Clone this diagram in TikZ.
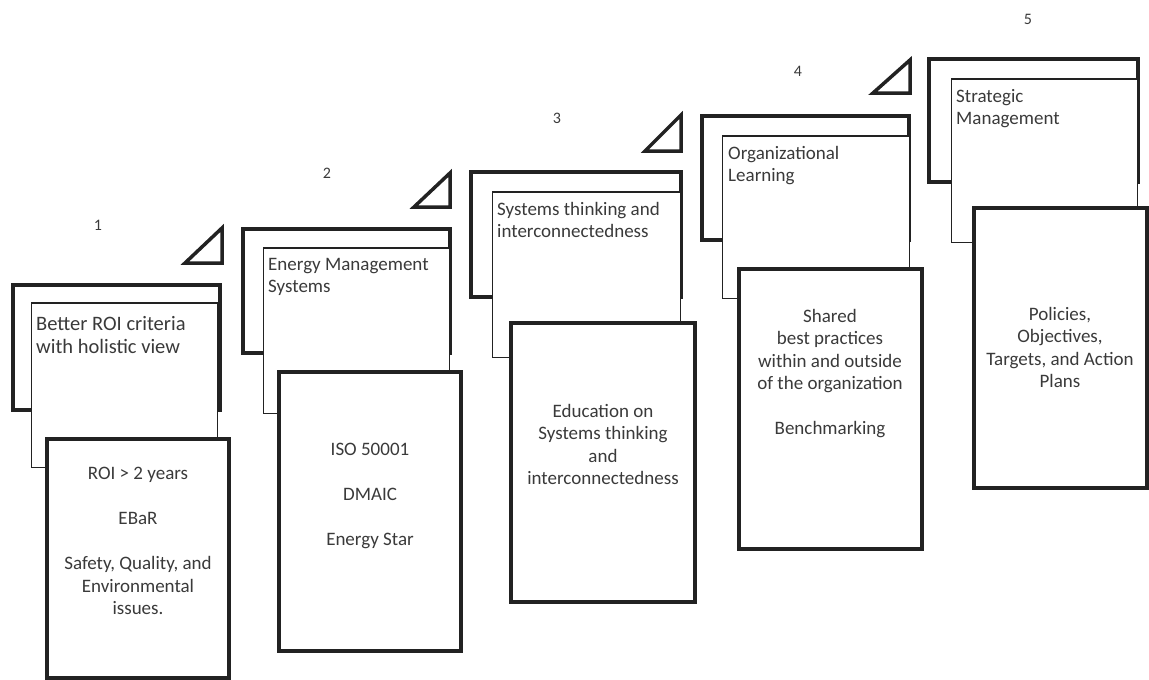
\documentclass[tikz,border=0pt]{standalone}
\usepackage{fontspec}
\setmainfont{Carlito}
\definecolor{txt}{HTML}{3A3A3A}
\definecolor{ln}{HTML}{222222}
\tikzset{
  stepframe/.style={draw=ln, line width=4pt, anchor=north west, inner sep=0pt, outer sep=0pt},
  titlebox/.style={draw=ln, fill=white, line width=1pt, anchor=north west, inner sep=0pt, outer sep=0pt},
  detailbox/.style={draw=ln, fill=white, line width=4pt, anchor=north west, inner sep=0pt, outer sep=0pt},
  titletext/.style={anchor=north west, inner sep=0pt, align=left, text=txt, font=\fontsize{19}{22.5}\selectfont},
  detailtext/.style={anchor=north, inner sep=0pt, align=center, text=txt, font=\fontsize{19}{22.5}\selectfont},
  numlabel/.style={inner sep=0pt, text=txt, font=\fontsize{16}{18}\selectfont},
  marker/.style={draw=ln, line width=3.5pt, line join=miter},
  topedge/.style={draw=ln, line width=2.5pt}
}
\begin{document}
\begin{tikzpicture}[x=1pt,y=-1pt]
\useasboundingbox (0,0) rectangle (1149,680);

% ---------- Step 1 ----------
\node[numlabel] (n1) at (98,225) {1};
\draw[marker] (185,263) -- (222,228) -- (222,263) -- cycle;
\node[stepframe, minimum width=207pt, minimum height=125pt] (f1) at (13,285) {};
\node[titlebox, minimum width=186pt, minimum height=164pt] (t1) at (31,303) {};
\draw[topedge] (t1.north west) -- (t1.north west -| f1.east);
\node[titletext, font=\fontsize{20.5}{23}\selectfont] (tt1) at (36,316) {Better ROI criteria\\with holistic view};
\node[detailbox, minimum width=182pt, minimum height=239pt] (d1) at (47,439) {};
\node[detailtext] (dt1) at (138,467) {ROI > 2 years\\[22.5pt]EBaR\\[22.5pt]Safety, Quality, and\\Environmental\\issues.};

% ---------- Step 2 ----------
\node[numlabel] (n2) at (327,173) {2};
\draw[marker] (414,207) -- (450,173) -- (450,207) -- cycle;
\node[stepframe, minimum width=207pt, minimum height=124pt] (f2) at (243,229) {};
\node[titlebox, minimum width=186pt, minimum height=165pt] (t2) at (263,248) {};
\draw[topedge] (t2.north west) -- (t2.north west -| f2.east);
\node[titletext] (tt2) at (268,258) {Energy Management\\Systems};
\node[detailbox, minimum width=182pt, minimum height=279pt] (d2) at (279,372) {};
\node[detailtext] (dt2) at (370,443) {ISO 50001\\[22.5pt]DMAIC\\[22.5pt]Energy Star};

% ---------- Step 3 ----------
\node[numlabel] (n3) at (557,118) {3};
\draw[marker] (645,151) -- (681,115) -- (681,151) -- cycle;
\node[stepframe, minimum width=210pt, minimum height=125pt] (f3) at (471,172) {};
\node[titlebox, minimum width=188pt, minimum height=165pt] (t3) at (492,192) {};
\draw[topedge] (t3.north west) -- (t3.north west -| f3.east);
\node[titletext] (tt3) at (497,202) {Systems thinking and\\interconnectedness};
\node[detailbox, minimum width=184pt, minimum height=279pt] (d3) at (511,323) {};
\node[detailtext] (dt3) at (603,404) {Education on\\Systems thinking\\and\\interconnectedness};

% ---------- Step 4 ----------
\node[numlabel] (n4) at (798,71) {4};
\draw[marker] (873,93) -- (910,60) -- (910,93) -- cycle;
\node[stepframe, minimum width=207pt, minimum height=124pt] (f4) at (702,116) {};
\node[titlebox, minimum width=187pt, minimum height=162pt] (t4) at (722,136) {};
\draw[topedge] (t4.north west) -- (t4.north west -| f4.east);
\node[titletext] (tt4) at (728,146) {Organizational\\Learning};
\node[detailbox, minimum width=183pt, minimum height=280pt] (d4) at (739,269) {};
\node[detailtext] (dt4) at (830,309) {Shared\\best practices\\within and outside\\of the organization\\[22.5pt]Benchmarking};

% ---------- Step 5 ----------
\node[numlabel] (n5) at (1028,19) {5};
\node[stepframe, minimum width=209pt, minimum height=123pt] (f5) at (929,59) {};
\node[titlebox, minimum width=186pt, minimum height=163pt] (t5) at (951,79) {};
\draw[topedge] (t5.north west) -- (t5.north west -| f5.east);
\node[titletext] (tt5) at (956,89) {Strategic\\Management};
\node[detailbox, minimum width=173pt, minimum height=280pt] (d5) at (974,208) {};
\node[detailtext] (dt5) at (1060,307) {Policies,\\Objectives,\\Targets, and Action\\Plans};
\end{tikzpicture}
\end{document}
